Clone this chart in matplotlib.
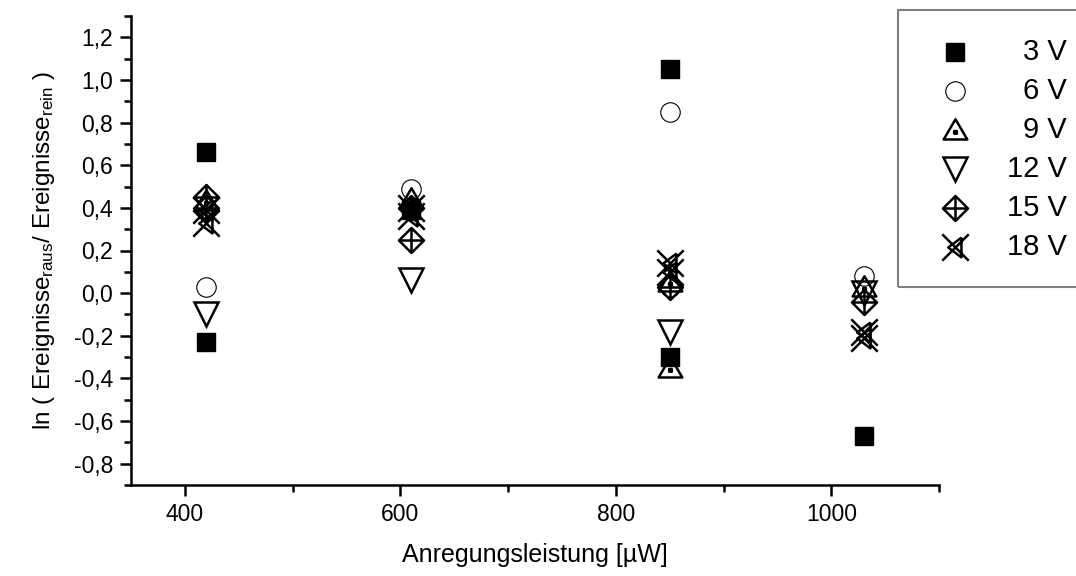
import matplotlib
matplotlib.use("Agg")
import matplotlib.pyplot as plt
from matplotlib.path import Path
from matplotlib.patches import Rectangle
from matplotlib.ticker import MultipleLocator, FuncFormatter

plt.rcParams['font.family'] = ['Liberation Sans', 'DejaVu Sans']
plt.rcParams['mathtext.fontset'] = 'custom'
plt.rcParams['mathtext.rm'] = 'Liberation Sans'
plt.rcParams['mathtext.it'] = 'Liberation Sans'

# Measured values: excitation power [µW] and ln(events_out / events_in)
x_3V = [420, 420, 610, 850, 850, 1030]
y_3V = [0.66, -0.23, 0.39, 1.05, -0.30, -0.67]

x_6V = [420, 610, 850, 850, 1030]
y_6V = [0.03, 0.49, 0.85, 0.03, 0.08]

x_9V = [420, 610, 850, 850, 1030]
y_9V = [0.43, 0.44, 0.05, -0.35, 0.03]

x_12V = [420, 610, 850, 1030]
y_12V = [-0.10, 0.06, -0.18, 0.00]

x_15V = [420, 420, 610, 610, 850, 1030]
y_15V = [0.45, 0.40, 0.25, 0.40, 0.03, -0.04]

x_18V = [420, 420, 610, 610, 850, 850, 1030, 1030]
y_18V = [0.39, 0.33, 0.40, 0.36, 0.14, 0.10, -0.18, -0.21]

labels = ["3 V", "6 V", "9 V", "12 V", "15 V", "18 V"]

M, L, C = Path.MOVETO, Path.LINETO, Path.CLOSEPOLY

# triangle with a dot in the middle
tri_dot = Path(
    [(0, 1), (-1.05, -0.8), (1.05, -0.8), (0, 1),
     (-0.12, -0.28), (0.12, -0.28), (0.12, -0.05), (-0.12, -0.05), (-0.12, -0.28)],
    [M, L, L, C, M, L, L, L, C])

# diamond with a cross inside
diamond_plus = Path(
    [(0, 1), (1, 0), (0, -1), (-1, 0), (0, 1),
     (0, 1), (0, -1), (-1, 0), (1, 0)],
    [M, L, L, L, C, M, L, M, L])

# X with a left-pointing triangle
x_tri = Path(
    [(-1, -1), (1, 1), (-1, 1), (1, -1),
     (0.45, 0.75), (-0.55, 0), (0.45, -0.75), (0.45, 0.75)],
    [M, L, M, L, M, L, L, L])

styles = [
    dict(marker='s', markersize=13, markerfacecolor='black', markeredgecolor='black', markeredgewidth=1.0),
    dict(marker='o', markersize=14, markerfacecolor='none', markeredgecolor='black', markeredgewidth=0.8),
    dict(marker=tri_dot, markersize=17, markerfacecolor='none', markeredgecolor='black', markeredgewidth=1.8),
    dict(marker='v', markersize=17, markerfacecolor='none', markeredgecolor='black', markeredgewidth=1.8),
    dict(marker=diamond_plus, markersize=18, markerfacecolor='none', markeredgecolor='black', markeredgewidth=1.8),
    dict(marker=x_tri, markersize=19, markerfacecolor='none', markeredgecolor='black', markeredgewidth=1.8),
]

series = [(x_3V, y_3V), (x_6V, y_6V), (x_9V, y_9V),
          (x_12V, y_12V), (x_15V, y_15V), (x_18V, y_18V)]

fig = plt.figure(figsize=(10.76, 5.76), dpi=100)
ax = fig.add_axes([131 / 1076, 1 - 485 / 576, (939 - 131) / 1076, (485 - 16) / 576])

for (xs, ys), st in zip(series, styles):
    ax.plot(xs, ys, linestyle='none', clip_on=False, **st)

ax.set_xlim(350, 1100)
ax.set_ylim(-0.9, 1.3)
ax.xaxis.set_major_locator(MultipleLocator(200))
ax.xaxis.set_minor_locator(MultipleLocator(100))
ax.yaxis.set_minor_locator(MultipleLocator(0.1))
ax.set_yticks([v / 10 for v in range(-8, 13, 2)])
ax.yaxis.set_major_formatter(FuncFormatter(lambda v, p: f"{v:.1f}".replace('.', ',').replace('-0,0', '0,0')))

for side in ('top', 'right'):
    ax.spines[side].set_visible(False)
for side in ('left', 'bottom'):
    ax.spines[side].set_linewidth(1.8)

ax.tick_params(which='major', direction='out', length=8, width=1.8, labelsize=16.5, pad=5)
ax.tick_params(which='minor', direction='out', length=5, width=1.8)

ax.set_xlabel("Anregungsleistung [µW]", fontsize=18, labelpad=12)
ax.set_ylabel(r"ln ( Ereignisse$_{\mathrm{raus}}$/ Ereignisse$_{\mathrm{rein}}$ )", fontsize=17.5, labelpad=12)

# legend panel
lax = fig.add_axes([898 / 1076, 1 - 287 / 576, (1076 - 898) / 1076, (287 - 10) / 576])
lax.set_xlim(0, 1)
lax.set_ylim(0, 1)
lax.axis('off')
lax.add_patch(Rectangle((0, 0), 1.2, 1, transform=lax.transAxes, fill=False,
                        edgecolor='#808080', linewidth=1.5, clip_on=False))
row_px = [52, 91, 130, 169, 208, 247]
for lab, st, py in zip(labels, styles, row_px):
    yy = 1 - (py - 10) / 277
    lax.plot([0.32], [yy], linestyle='none', **st)
    lax.text(0.95, yy, lab, ha='right', va='center', fontsize=21)

fig.savefig("out.png", dpi=100)
